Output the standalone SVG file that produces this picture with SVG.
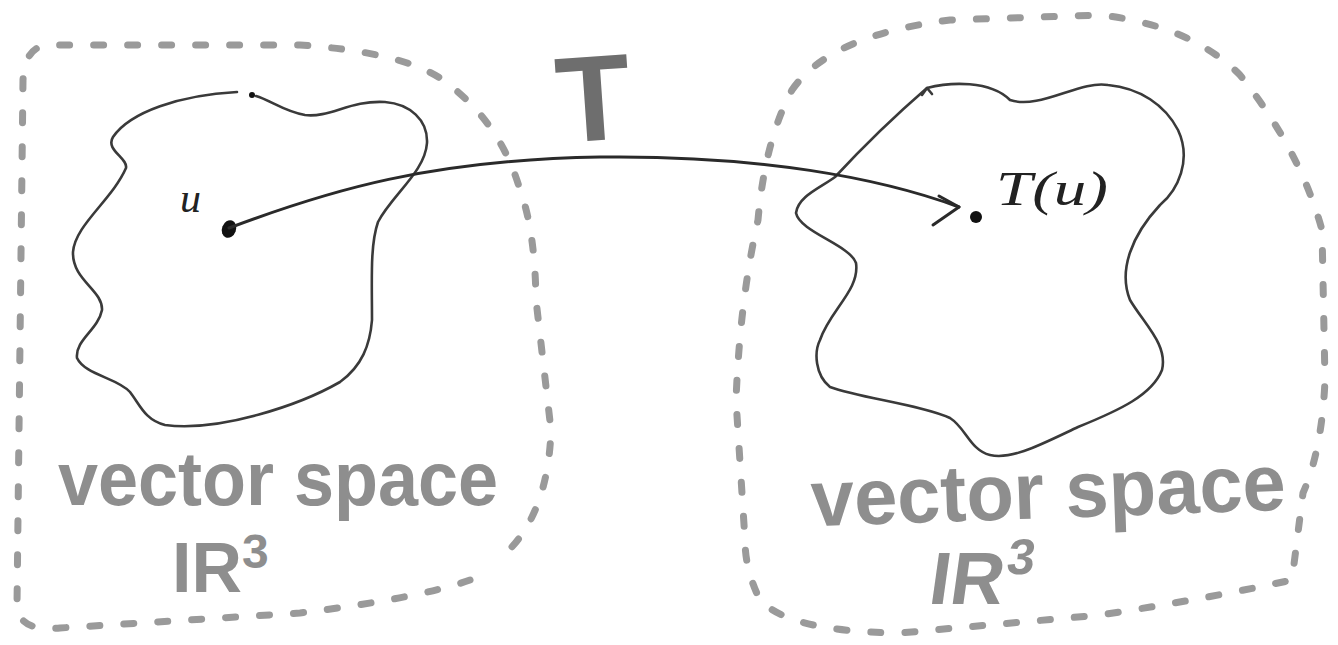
<svg xmlns="http://www.w3.org/2000/svg" width="1338" height="645" viewBox="0 0 1338 645">
<style>
.box{fill:none;stroke:#9a9a9a;stroke-width:7;stroke-linecap:round;stroke-dasharray:10 24}
.blob{fill:none;stroke:#3a3a3a;stroke-width:2.6;stroke-linecap:round;stroke-linejoin:round}
.lbl{font-family:"Liberation Sans",Arial,sans-serif;font-weight:bold;fill:#8e8e8e}
.hand{font-family:"Liberation Serif","Times New Roman",serif;font-style:italic;fill:#222}
.conn{fill:none;stroke:#2a2a2a;stroke-width:3;stroke-linecap:round;stroke-linejoin:round}
</style>
<rect width="1338" height="645" fill="#ffffff"/>
<g id="left-space">
<path class="box" d="M 470 580 Q 420 598 300 613 L 60 628 Q 18 632 17 605 L 23 80 Q 25 45 50 45 L 300 45 Q 400 52 440 78 Q 500 120 520 190 Q 535 230 536 300 L 551 430 Q 548 520 498 560"/>
<path class="blob" d="M 237 92 C 180 95 130 112 113 137 C 105 150 128 158 126 168 C 112 200 75 225 73 252 C 72 280 103 290 102 310 C 98 330 75 340 77 358 C 85 375 118 378 130 392 C 140 405 145 420 165 425 C 220 432 300 405 340 382 C 362 366 370 345 372 320 C 372 280 370 245 378 222 C 392 195 425 172 427 143 C 428 120 410 104 385 102 C 350 100 330 118 305 115 C 285 112 270 100 256 96"/>
<circle cx="252" cy="95" r="3" fill="#111"/>
<ellipse cx="229" cy="229" rx="7" ry="9" transform="rotate(20 229 229)" fill="#111"/>
<text class="hand" x="180" y="212" font-size="42">u</text>
<text class="lbl" x="58" y="505" font-size="76" textLength="440" lengthAdjust="spacingAndGlyphs">vector space</text>
<text class="lbl" x="172" y="592" font-size="70">IR<tspan font-size="48" dy="-24">3</tspan></text>
</g>
<g id="right-space">
<path class="box" d="M 792 90 Q 830 35 950 20 L 1100 15 Q 1190 25 1240 75 Q 1300 150 1322 230 L 1325 380 Q 1322 450 1303 493 L 1292 580 Q 1200 600 1100 615 L 900 633 Q 790 632 760 600 Q 745 570 745 540 L 736 400 Q 740 300 758 220 Q 765 140 792 90"/>
<path class="blob" d="M 927 88 C 950 82 990 80 1010 100 C 1040 110 1080 80 1108 85 C 1140 88 1165 105 1178 130 C 1192 160 1178 190 1160 205 C 1132 235 1118 270 1130 300 C 1145 325 1168 345 1162 370 C 1152 395 1120 410 1078 427 C 1040 445 1012 460 990 455 C 970 450 966 428 950 418 C 922 405 860 398 830 387 C 815 375 814 352 820 340 C 830 310 860 290 856 263 C 850 245 800 232 796 213 C 798 196 822 187 835 177 C 860 150 890 120 927 88"/>
<path class="blob" d="M 922 95 L 927 88 L 932 94"/>
<circle cx="976" cy="217" r="6" fill="#111"/>
<text class="hand" x="996" y="205" font-size="48" textLength="112" lengthAdjust="spacingAndGlyphs">T(u)</text>
<text class="lbl" x="811" y="518" font-size="80" textLength="475" lengthAdjust="spacingAndGlyphs" transform="rotate(-2 1050 500)">vector space</text>
<text class="lbl" x="930" y="604" font-size="74" transform="skewX(-8) translate(82 0)">IR<tspan font-size="50" dy="-30">3</tspan></text>
</g>
<g id="connectors">
<path class="conn" d="M 229 228 C 330 190 430 160 600 157 C 760 155 880 178 959 207"/>
<path class="conn" d="M 939 196 L 959 207 L 933 225"/>
</g>
<g id="label-T">
<text x="556" y="140" font-family="Liberation Sans, Arial, sans-serif" font-weight="bold" font-size="122" fill="#6e6e6e" transform="rotate(-4 600 100)">T</text>
</g>
</svg>
